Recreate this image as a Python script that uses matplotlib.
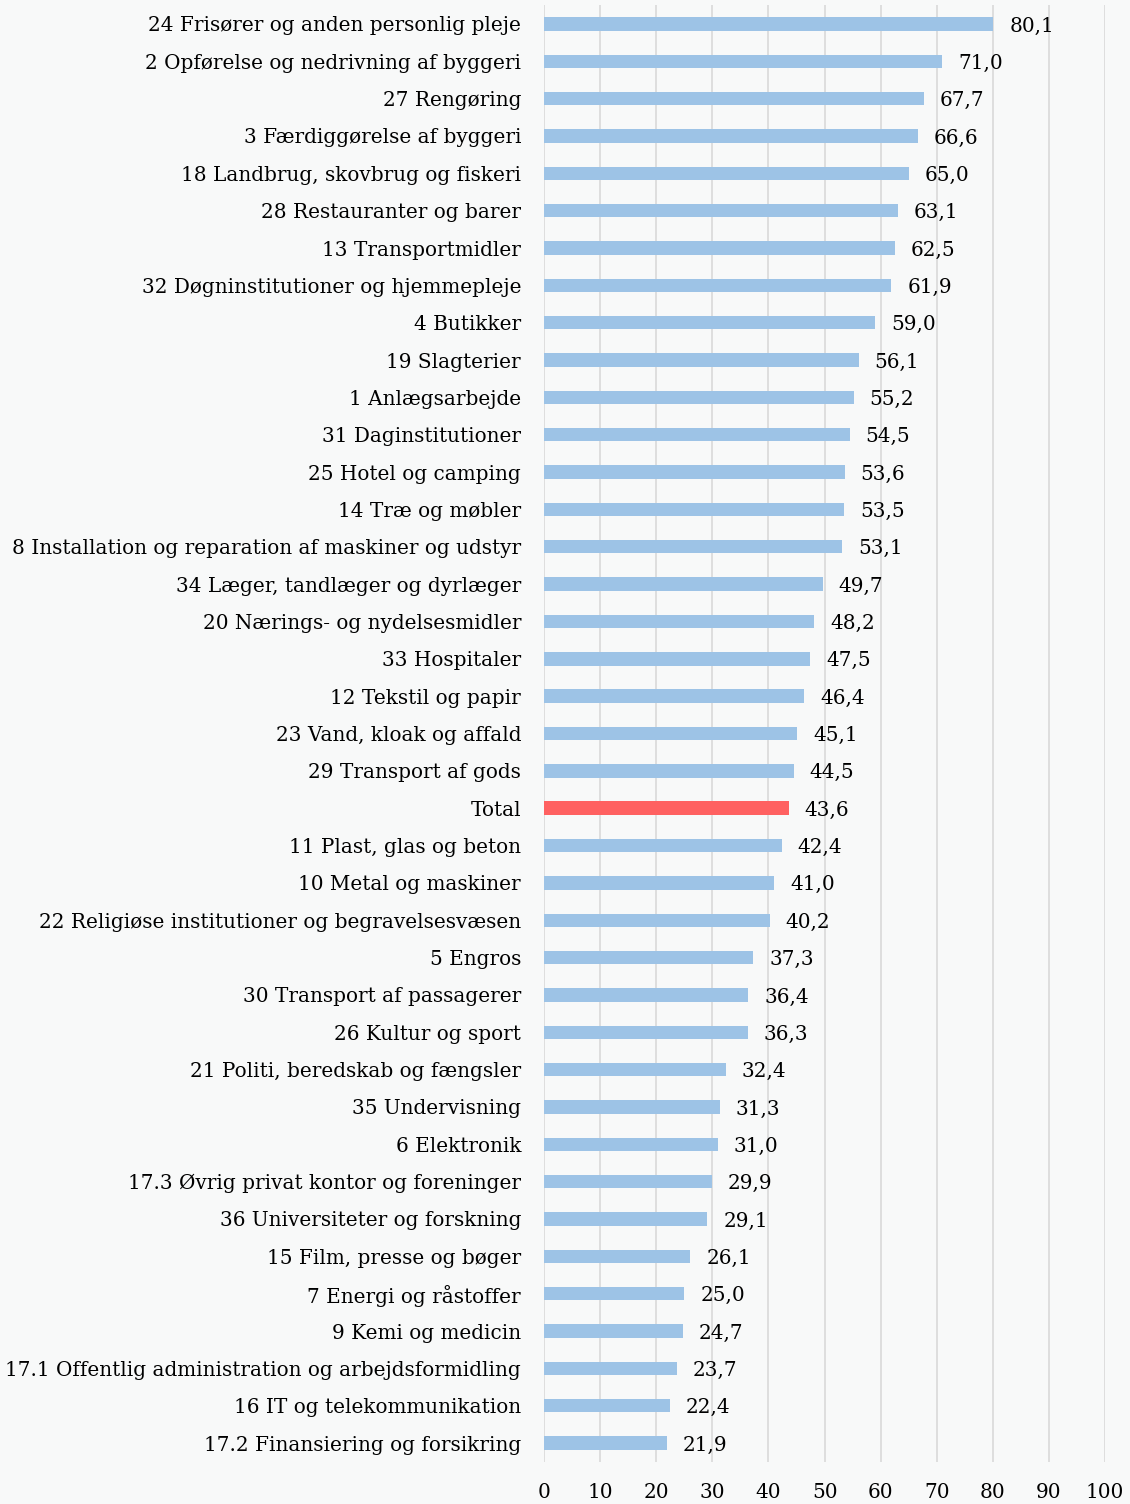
import matplotlib
matplotlib.use("Agg")
import matplotlib.pyplot as plt

categories = [
    "24 Frisører og anden personlig pleje",
    "2 Opførelse og nedrivning af byggeri",
    "27 Rengøring",
    "3 Færdiggørelse af byggeri",
    "18 Landbrug, skovbrug og fiskeri",
    "28 Restauranter og barer",
    "13 Transportmidler",
    "32 Døgninstitutioner og hjemmepleje",
    "4 Butikker",
    "19 Slagterier",
    "1 Anlægsarbejde",
    "31 Daginstitutioner",
    "25 Hotel og camping",
    "14 Træ og møbler",
    "8 Installation og reparation af maskiner og udstyr",
    "34 Læger, tandlæger og dyrlæger",
    "20 Nærings- og nydelsesmidler",
    "33 Hospitaler",
    "12 Tekstil og papir",
    "23 Vand, kloak og affald",
    "29 Transport af gods",
    "Total",
    "11 Plast, glas og beton",
    "10 Metal og maskiner",
    "22 Religiøse institutioner og begravelsesvæsen",
    "5 Engros",
    "30 Transport af passagerer",
    "26 Kultur og sport",
    "21 Politi, beredskab og fængsler",
    "35 Undervisning",
    "6 Elektronik",
    "17.3 Øvrig privat kontor og foreninger",
    "36 Universiteter og forskning",
    "15 Film, presse og bøger",
    "7 Energi og råstoffer",
    "9 Kemi og medicin",
    "17.1 Offentlig administration og arbejdsformidling",
    "16 IT og telekommunikation",
    "17.2 Finansiering og forsikring",
]
values = [80.1, 71.0, 67.7, 66.6, 65.0, 63.1, 62.5, 61.9, 59.0, 56.1, 55.2, 54.5,
          53.6, 53.5, 53.1, 49.7, 48.2, 47.5, 46.4, 45.1, 44.5, 43.6, 42.4, 41.0,
          40.2, 37.3, 36.4, 36.3, 32.4, 31.3, 31.0, 29.9, 29.1, 26.1, 25.0, 24.7,
          23.7, 22.4, 21.9]
xticks = [0, 10, 20, 30, 40, 50, 60, 70, 80, 90, 100]

plt.rcParams['font.family'] = ['DejaVu Serif']
bg = '#F8F9F9'
fs = 14.4
fig = plt.figure(figsize=(11.3, 15.04), dpi=100, facecolor=bg)
ax = fig.add_axes([0.4814, 0.0281, 0.9779 - 0.4814, 0.9965 - 0.0281])
ax.set_facecolor(bg)

colors = ['#FF6161' if c == 'Total' else '#9DC3E6' for c in categories]
ypos = list(range(len(categories)))
ax.barh(ypos, values, height=0.36, color=colors, zorder=3)
for y, v in zip(ypos, values):
    ax.annotate(f"{v:.1f}".replace('.', ','), (v, y), xytext=(11.5, 0),
                textcoords='offset points', va='center_baseline', ha='left',
                fontsize=fs, color='black', zorder=4)

ax.set_yticks(ypos)
ax.set_yticklabels(categories, fontsize=fs)
ax.set_ylim(len(categories) - 0.5, -0.5)
ax.set_xlim(0, 100)
ax.set_xticks(xticks)
ax.set_xticklabels([str(t) for t in xticks], fontsize=fs)
ax.tick_params(axis='both', length=0)
ax.tick_params(axis='y', pad=16.5)
ax.tick_params(axis='x', pad=15)
ax.grid(axis='x', color='#D9D9D9', linewidth=1.2, zorder=0)
for s in ax.spines.values():
    s.set_visible(False)

fig.savefig('out.png', dpi=100, facecolor=bg)
